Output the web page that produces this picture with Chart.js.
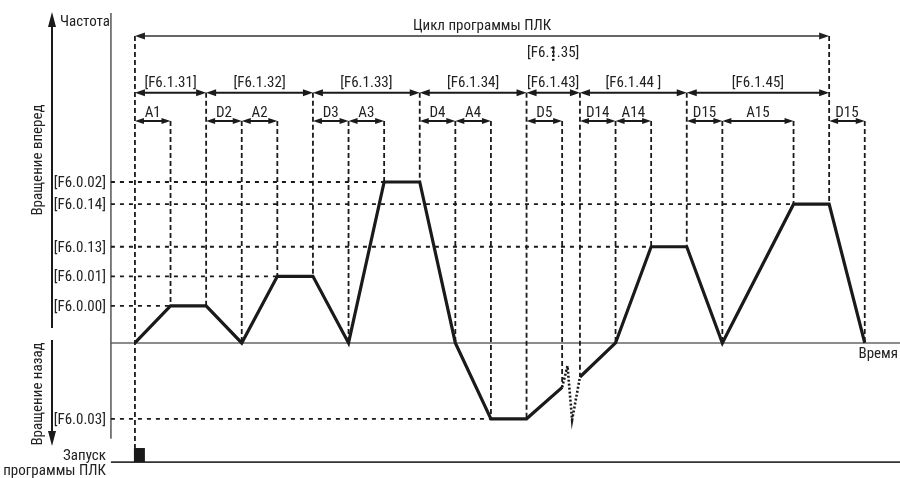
<!DOCTYPE html>
<html>
<head>
<meta charset="utf-8">
<script src="https://cdn.jsdelivr.net/npm/chart.js@4.4.1/dist/chart.umd.min.js"></script>
<style>
  html, body { margin: 0; padding: 0; background: #fff; }
</style>
</head>
<body>
<canvas id="plcChart" width="900" height="478"></canvas>
<script>
// ====== данные (время в условных шагах, частота в условных единицах) ======
const LEVEL_LABELS = ['[F6.0.00]', '[F6.0.01]', '[F6.0.13]', '[F6.0.14]', '[F6.0.02]', '[F6.0.03]'];
const LEVEL_VALUES = [10, 18, 26, 37.5, 43.5, -20.5];
const LEVEL_REACH  = [1, 4, 14.5, 18.5, 7, 10];          // где пунктир упирается в кривую

// кривая частоты, до разрыва и после
const CURVE_A_T = [0, 1, 2, 3, 4, 5, 6, 7, 8, 9, 10, 11, 12];
const CURVE_A_V = [0, 10, 10, 0, 18, 18, 0, 43.5, 43.5, 0, -20.5, -20.5, -12];
const CURVE_B_T = [12.5, 13.5, 14.5, 15.5, 16.5, 18.5, 19.5, 20.5];
const CURVE_B_V = [-9.2, 0, 26, 26, 0, 37.5, 37.5, 0];
// пунктирный «излом» между D5 и D14
const BREAK_T = [12, 12.15, 12.28, 12.5];
const BREAK_V = [-12, -6.2, -20.8, -9.2];

// шаги программы
const SEGMENT_BOUNDS = [0, 2, 5, 8, 11, 12.5, 15.5, 19.5];
const SEGMENT_LABELS = ['[F6.1.31]', '[F6.1.32]', '[F6.1.33]', '[F6.1.34]', '[F6.1.43]', '[F6.1.44 ]', '[F6.1.45]'];
const PHASE_LABELS = ['A1', 'D2', 'A2', 'D3', 'A3', 'D4', 'A4', 'D5', 'D14', 'A14', 'D15', 'A15', 'D15'];
const PHASE_START  = [0, 2, 3, 5, 6, 8, 9, 11, 12.5, 13.5, 15.5, 16.5, 19.5];
const PHASE_END    = [1, 3, 4, 6, 7, 9, 10, 12, 13.5, 14.5, 16.5, 18.5, 20.5];
const CYCLE_START = 0;
const CYCLE_END = 19.5;
const CYCLE_LABEL = 'Цикл программы ПЛК';
const EXTRA_STEP_LABEL = '[F6.1.35]';

// ====== геометрия ======
const X_MIN = -3.79, X_MAX = 21.49;
const Y_MIN = -36.5, Y_MAX = 92.7;
const AXIS_T = -0.674;          // вертикальная ось частоты
const AXIS_TOP = 89.2, AXIS_BOTTOM = -25.9;
const ROW_CYCLE = 83, ROW_SEGMENT = 67.6, ROW_PHASE = 60;
const START_LINE = -32.2, START_MARK_TOP = -28.4, START_MARK_END = 0.28;

const INK = '#1a1a1a';
const FONT = '15px "Liberation Sans Narrow", "Arial Narrow", "Roboto Condensed", "DejaVu Sans", sans-serif';

function pts(ts, vs) {
  return ts.map((t, i) => ({ x: t, y: vs[i] }));
}

function curveValueAt(t) {
  let i = CURVE_A_T.indexOf(t);
  if (i >= 0) return CURVE_A_V[i];
  i = CURVE_B_T.indexOf(t);
  if (i >= 0) return CURVE_B_V[i];
  return 0;
}

function lineDs(data, style) {
  return Object.assign({
    data,
    showLine: true,
    pointRadius: 0,
    fill: false,
    clip: false,
    tension: 0,
    borderColor: INK,
    borderWidth: 2
  }, style);
}

// ====== наборы данных ======
const datasets = [];

datasets.push(lineDs(pts(CURVE_A_T, CURVE_A_V), { borderWidth: 3.2, borderJoinStyle: 'miter' }));
datasets.push(lineDs(pts(CURVE_B_T, CURVE_B_V), { borderWidth: 3.2, borderJoinStyle: 'miter' }));
datasets.push(lineDs(pts(BREAK_T, BREAK_V), { borderWidth: 2.6, borderDash: [2, 2] }));

// горизонтальные пунктиры уровней
LEVEL_VALUES.forEach((v, i) => {
  datasets.push(lineDs([{ x: AXIS_T, y: v }, { x: LEVEL_REACH[i], y: v }], { borderWidth: 1.8, borderDash: [4, 5] }));
});

// вертикальные пунктиры
const guideTimes = new Set([...SEGMENT_BOUNDS, ...PHASE_START, ...PHASE_END]);
guideTimes.forEach(t => {
  let top = ROW_PHASE;
  if (t === CYCLE_START || t === CYCLE_END) top = ROW_CYCLE;
  else if (SEGMENT_BOUNDS.includes(t)) top = ROW_SEGMENT;
  const bottom = t === CYCLE_START ? START_MARK_TOP : curveValueAt(t);
  datasets.push(lineDs([{ x: t, y: top }, { x: t, y: bottom }], { borderWidth: 1.8, borderDash: [5, 3] }));
});

// оси
datasets.push(lineDs([{ x: AXIS_T, y: AXIS_TOP }, { x: AXIS_T, y: AXIS_BOTTOM }], { borderColor: '#555', borderWidth: 1.5 }));
datasets.push(lineDs([{ x: AXIS_T, y: 0 }, { x: X_MAX, y: 0 }], { borderColor: '#666', borderWidth: 1.6 }));
datasets.push(lineDs([{ x: AXIS_T, y: START_LINE }, { x: X_MAX, y: START_LINE }], { borderColor: '#333', borderWidth: 1.6 }));

// ====== подписи и стрелки ======
function arrowHead(ctx, x, y, dir, len, half) {
  ctx.beginPath();
  ctx.moveTo(x, y);
  ctx.lineTo(x - dir * len, y - half);
  ctx.lineTo(x - dir * len, y + half);
  ctx.closePath();
  ctx.fill();
}

function dimArrow(ctx, x0, x1, y, lw, len, half) {
  ctx.lineWidth = lw;
  ctx.beginPath();
  ctx.moveTo(x0 + len - 1, y);
  ctx.lineTo(x1 - len + 1, y);
  ctx.stroke();
  arrowHead(ctx, x0, y, -1, len, half);
  arrowHead(ctx, x1, y, 1, len, half);
}

const annotatePlugin = {
  id: 'annotate',
  afterDatasetsDraw(chart) {
    const { ctx } = chart;
    const sx = chart.scales.x, sy = chart.scales.y;
    const X = t => sx.getPixelForValue(t);
    const Y = v => sy.getPixelForValue(v);

    ctx.save();
    ctx.fillStyle = INK;
    ctx.strokeStyle = INK;
    ctx.font = FONT;
    ctx.textBaseline = 'middle';

    // цикл
    ctx.strokeStyle = '#333';
    ctx.fillStyle = '#222';
    dimArrow(ctx, X(CYCLE_START), X(CYCLE_END), Y(ROW_CYCLE), 1.5, 10, 3.5);
    ctx.textAlign = 'center';
    ctx.fillText(CYCLE_LABEL, (X(CYCLE_START) + X(CYCLE_END)) / 2, Y(ROW_CYCLE) - 10);

    // шаги
    ctx.strokeStyle = INK;
    ctx.fillStyle = INK;
    for (let i = 0; i < SEGMENT_LABELS.length; i++) {
      const x0 = X(SEGMENT_BOUNDS[i]), x1 = X(SEGMENT_BOUNDS[i + 1]);
      dimArrow(ctx, x0, x1, Y(ROW_SEGMENT), 2, 10, 3.5);
      ctx.fillStyle = '#222';
      ctx.fillText(SEGMENT_LABELS[i], (x0 + x1) / 2, Y(ROW_SEGMENT) - 10);
      ctx.fillStyle = INK;
    }
    // [F6.1.35] над [F6.1.43]
    const xs = (X(SEGMENT_BOUNDS[4]) + X(SEGMENT_BOUNDS[5])) / 2;
    ctx.fillStyle = '#222';
    ctx.fillText(EXTRA_STEP_LABEL, xs, Y(ROW_SEGMENT) - 40);
    ctx.save();
    ctx.lineWidth = 2.4;
    ctx.setLineDash([2, 2]);
    ctx.beginPath();
    ctx.moveTo(xs, Y(ROW_SEGMENT) - 46);
    ctx.lineTo(xs, Y(ROW_SEGMENT) - 32);
    ctx.stroke();
    ctx.restore();

    // фазы разгона / торможения
    ctx.fillStyle = INK;
    for (let i = 0; i < PHASE_LABELS.length; i++) {
      const x0 = X(PHASE_START[i]), x1 = X(PHASE_END[i]);
      dimArrow(ctx, x0, x1, Y(ROW_PHASE), 2, 9, 3);
      ctx.fillStyle = '#222';
      ctx.fillText(PHASE_LABELS[i], (x0 + x1) / 2, Y(ROW_PHASE) - 8);
      ctx.fillStyle = INK;
    }

    // метки уровней
    ctx.textAlign = 'right';
    ctx.fillStyle = '#222';
    LEVEL_LABELS.forEach((lab, i) => {
      ctx.fillText(lab, X(AXIS_T) - 5, Y(LEVEL_VALUES[i]) + 1);
    });

    // старт программы
    ctx.fillStyle = INK;
    const mx0 = X(CYCLE_START) - 1, mx1 = X(START_MARK_END);
    ctx.fillRect(mx0, Y(START_MARK_TOP), mx1 - mx0, Y(START_LINE) - Y(START_MARK_TOP));
    ctx.fillStyle = '#222';
    ctx.fillText('Запуск', X(AXIS_T) - 5, Y(START_LINE) - 6);
    ctx.fillText('программы ПЛК', X(AXIS_T) - 5, Y(START_LINE) + 9);

    // Время
    ctx.fillText('Время', 898, Y(0) + 11);

    // Частота и стрелки направления
    ctx.textAlign = 'left';
    ctx.fillText('Частота', 60, 22);
    ctx.fillStyle = INK;
    ctx.strokeStyle = INK;
    ctx.lineWidth = 2;
    ctx.beginPath(); ctx.moveTo(52, 26); ctx.lineTo(52, 328); ctx.stroke();
    ctx.beginPath(); ctx.moveTo(52, 12); ctx.lineTo(48, 27); ctx.lineTo(56, 27); ctx.closePath(); ctx.fill();
    ctx.beginPath(); ctx.moveTo(52, 340); ctx.lineTo(52, 432); ctx.stroke();
    ctx.beginPath(); ctx.moveTo(52, 446); ctx.lineTo(48, 431); ctx.lineTo(56, 431); ctx.closePath(); ctx.fill();

    ctx.fillStyle = '#222';
    ctx.textAlign = 'center';
    ctx.save();
    ctx.translate(38, 160);
    ctx.rotate(-Math.PI / 2);
    ctx.fillText('Вращение вперед', 0, 0);
    ctx.restore();
    ctx.save();
    ctx.translate(38, 394);
    ctx.rotate(-Math.PI / 2);
    ctx.fillText('Вращение назад', 0, 0);
    ctx.restore();

    ctx.restore();
  }
};

new Chart(document.getElementById('plcChart'), {
  type: 'line',
  data: { datasets },
  options: {
    responsive: false,
    animation: false,
    parsing: true,
    layout: { padding: 0 },
    scales: {
      x: { type: 'linear', min: X_MIN, max: X_MAX, display: false },
      y: { type: 'linear', min: Y_MIN, max: Y_MAX, display: false }
    },
    plugins: {
      legend: { display: false },
      tooltip: { enabled: false }
    }
  },
  plugins: [annotatePlugin]
});
</script>
</body>
</html>
